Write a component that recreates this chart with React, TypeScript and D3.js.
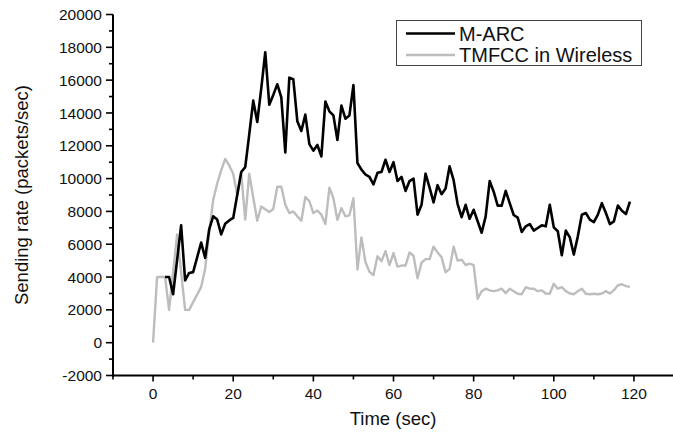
import React from "react";
import * as d3 from "d3";

// ---- Data ----
const marcStart = 3; // first second of the M-ARC series
const marcValues = [
  4000, 4000, 2950, 5050, 7150, 3800, 4250, 4300, 5200, 6100, // 3-12
  5170, 6900, 7700, 7500, 6600, 7250, 7450, 7600, 9000, 10400, // 13-22
  10700, 12700, 14750, 13450, 15500, 17700, 14500, 15100, 15750, 14950, // 23-32
  11600, 16150, 16050, 13500, 12900, 13900, 12100, 11700, 12050, 11350, // 33-42
  14700, 14100, 13850, 12350, 14450, 13650, 13850, 15700, 10950, 10550, // 43-52
  10250, 10100, 9650, 10350, 10400, 11150, 10400, 11000, 9850, 10100, // 53-62
  9250, 9850, 10000, 7800, 8400, 10300, 9450, 8550, 9600, 9050, // 63-72
  9400, 10750, 9900, 8450, 7650, 8400, 7550, 8100, 7400, 6700, // 73-82
  7700, 9850, 9200, 8350, 8350, 9250, 8500, 7780, 7620, 6750, // 83-92
  7090, 7230, 6830, 6990, 7150, 7090, 8400, 7030, 6790, 5330, // 93-102
  6830, 6420, 5370, 6480, 7800, 7900, 7500, 7350, 7800, 8500, // 103-112
  7900, 7230, 7390, 8360, 8040, 7840, 8600, // 113-119
];

const tmfccStart = 0;
const tmfccValues = [
  0, 4000, 4000, 4000, 2000, 4300, 6600, 4300, 2000, 2000, // 0-9
  2470, 2930, 3400, 4500, 6700, 8700, 9700, 10500, 11200, 10800, // 10-19
  10300, 9000, 10300, 7500, 10300, 8850, 7430, 8300, 8130, 7960, // 20-29
  8150, 9500, 9500, 8400, 7900, 8000, 7700, 7430, 8880, 8630, // 30-39
  7900, 8050, 7800, 7230, 9450, 8800, 7490, 8200, 7700, 7760, // 40-49
  8800, 4460, 6420, 4920, 4320, 4120, 5270, 4970, 5580, 4730, // 50-59
  5460, 4640, 4700, 4700, 5500, 5300, 3930, 4880, 5090, 5090, // 60-69
  5850, 5500, 5200, 4290, 4500, 5850, 5000, 5050, 4730, 4820, // 70-79
  4730, 2680, 3140, 3290, 3190, 3140, 3190, 3290, 3020, 3290, // 80-89
  3140, 2980, 2950, 3380, 3290, 3290, 3140, 3190, 3000, 2980, // 90-99
  3590, 3290, 3380, 3140, 3000, 2950, 3140, 3290, 2980, 2950, // 100-109
  2980, 2950, 3000, 3140, 3000, 3200, 3500, 3560, 3450, 3400, // 110-119
];

const xMajorTicks = [0, 20, 40, 60, 80, 100, 120];
const xMinorTicks = [-10, 10, 30, 50, 70, 90, 110, 130];
const yMajorTicks = [-2000, 0, 2000, 4000, 6000, 8000, 10000, 12000, 14000, 16000, 18000, 20000];
const yMinorTicks = [-1000, 1000, 3000, 5000, 7000, 9000, 11000, 13000, 15000, 17000, 19000];

const seriesNames = ["M-ARC", "TMFCC in Wireless"];
const seriesColors = ["#000000", "#bdbdbd"];

const W = 673;
const H = 434;
const FONT = "'Liberation Sans', Arial, Helvetica, sans-serif";

export default function App() {
  const x = d3.scaleLinear().domain([-10, 130]).range([113, 674]);
  const y = d3.scaleLinear().domain([-2000, 20000]).range([375.5, 14.5]);

  const toPoints = (start: number, vals: number[]) =>
    vals.map((v, i) => [start + i, v] as [number, number]);

  const line = d3
    .line<[number, number]>()
    .x((d) => x(d[0]))
    .y((d) => y(d[1]));

  const marcPath = line(toPoints(marcStart, marcValues)) || "";
  const tmfccPath = line(toPoints(tmfccStart, tmfccValues)) || "";

  const axisX = x(-10);
  const axisY = y(-2000);

  return (
    <svg
      width={W}
      height={H}
      style={{ position: "absolute", left: 0, top: 0, background: "#fff" }}
      fontFamily={FONT}
    >
      <rect x={0} y={0} width={W} height={H} fill="#fff" />

      {/* series */}
      <path d={tmfccPath} fill="none" stroke={seriesColors[1]} strokeWidth={2.4} strokeLinejoin="round" />
      <path d={marcPath} fill="none" stroke={seriesColors[0]} strokeWidth={2.6} strokeLinejoin="round" />

      {/* y axis */}
      <line x1={axisX} x2={axisX} y1={y(20000)} y2={axisY + 1} stroke="#000" strokeWidth={2} />
      {yMajorTicks.map((t) => (
        <g key={"ym" + t}>
          <line x1={axisX - 7} x2={axisX} y1={y(t)} y2={y(t)} stroke="#000" strokeWidth={1.6} />
          <text x={axisX - 11} y={y(t)} dy="0.36em" textAnchor="end" fontSize={15.5} fill="#111">
            {t}
          </text>
        </g>
      ))}
      {yMinorTicks.map((t) => (
        <line key={"yn" + t} x1={axisX - 4} x2={axisX} y1={y(t)} y2={y(t)} stroke="#000" strokeWidth={1.6} />
      ))}

      {/* x axis */}
      <line x1={axisX - 1} x2={W} y1={axisY} y2={axisY} stroke="#000" strokeWidth={2} />
      {xMajorTicks.map((t) => (
        <g key={"xm" + t}>
          <line x1={x(t)} x2={x(t)} y1={axisY} y2={axisY + 6} stroke="#000" strokeWidth={1.6} />
          <text x={x(t)} y={399} textAnchor="middle" fontSize={15.5} fill="#111">
            {t}
          </text>
        </g>
      ))}
      {xMinorTicks.map((t) => (
        <line key={"xn" + t} x1={x(t)} x2={x(t)} y1={axisY} y2={axisY + 4} stroke="#000" strokeWidth={1.6} />
      ))}

      {/* axis titles */}
      <text x={(113 + 673) / 2} y={425} textAnchor="middle" fontSize={18.5} fill="#111">
        Time (sec)
      </text>
      <text
        transform={`translate(28, ${(y(20000) + axisY) / 2}) rotate(-90)`}
        textAnchor="middle"
        fontSize={18.5}
        fill="#111"
      >
        Sending rate (packets/sec)
      </text>

      {/* legend */}
      <rect x={396.5} y={20.5} width={245} height={45} fill="#fff" stroke="#444" strokeWidth={1} />
      {seriesNames.map((name, i) => (
        <g key={name}>
          <line
            x1={406}
            x2={455}
            y1={33.5 + i * 21.5}
            y2={33.5 + i * 21.5}
            stroke={seriesColors[i]}
            strokeWidth={2.4}
          />
          <text x={459} y={40.5 + i * 21.5} fontSize={20} fill="#111">
            {name}
          </text>
        </g>
      ))}
    </svg>
  );
}
